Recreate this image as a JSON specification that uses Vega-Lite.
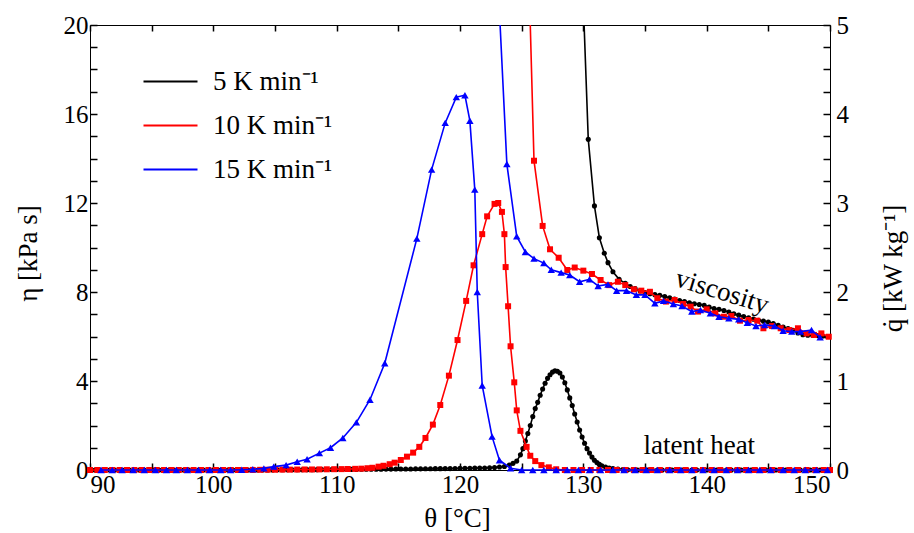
{
  "$schema": "https://vega.github.io/schema/vega-lite/v6.json",
  "width": 740,
  "height": 445,
  "autosize": {"type": "none"},
  "padding": {"left": 90, "top": 25, "right": 84, "bottom": 63},
  "background": "white",
  "config": {
    "view": {"stroke": null},
    "axis": {"labelFont": "Liberation Serif", "labelFontSize": 25, "labelColor": "black", "domainColor": "black", "grid": false},
    "legend": {
      "orient": "none", "legendX": 67, "legendY": 43, "padding": 0, "title": null,
      "symbolType": "M-3,0H3", "symbolSize": 324, "symbolStrokeWidth": 2,
      "labelFont": "Liberation Serif", "labelFontSize": 27, "labelColor": "black", "labelOffset": 29, "rowPadding": 16
    }
  },
  "datasets": {
    "visc": [
      {"s":"5","T":129.8,"v":24},{"s":"5","T":130.4,"v":14.86},{"s":"5","T":130.9,"v":11.87},{"s":"5","T":131.3,"v":10.44},{"s":"5","T":131.7,"v":9.74},{"s":"5","T":132.0,"v":9.32},{"s":"5","T":132.4,"v":8.91},{"s":"5","T":132.9,"v":8.57},{"s":"5","T":133.4,"v":8.39},{"s":"5","T":133.8,"v":8.25},{"s":"5","T":134.2,"v":8.15},{"s":"5","T":134.6,"v":8.05},{"s":"5","T":135.0,"v":7.98},{"s":"5","T":135.4,"v":7.92},{"s":"5","T":135.8,"v":7.88},{"s":"5","T":136.2,"v":7.85},{"s":"5","T":136.6,"v":7.8},{"s":"5","T":137.0,"v":7.74},{"s":"5","T":137.4,"v":7.68},{"s":"5","T":137.8,"v":7.62},{"s":"5","T":138.2,"v":7.57},{"s":"5","T":138.6,"v":7.52},{"s":"5","T":139.0,"v":7.47},{"s":"5","T":139.4,"v":7.44},{"s":"5","T":139.8,"v":7.4},{"s":"5","T":140.2,"v":7.32},{"s":"5","T":140.6,"v":7.26},{"s":"5","T":141.0,"v":7.22},{"s":"5","T":141.4,"v":7.17},{"s":"5","T":141.8,"v":7.1},{"s":"5","T":142.2,"v":7.02},{"s":"5","T":142.6,"v":6.96},{"s":"5","T":143.0,"v":6.9},{"s":"5","T":143.4,"v":6.84},{"s":"5","T":143.8,"v":6.78},{"s":"5","T":144.2,"v":6.73},{"s":"5","T":144.6,"v":6.69},{"s":"5","T":145.0,"v":6.65},{"s":"5","T":145.4,"v":6.58},{"s":"5","T":145.8,"v":6.5},{"s":"5","T":146.2,"v":6.43},{"s":"5","T":146.6,"v":6.36},{"s":"5","T":147.0,"v":6.28},{"s":"5","T":147.4,"v":6.16},{"s":"5","T":147.8,"v":6.08},{"s":"5","T":148.2,"v":6.06},{"s":"5","T":148.6,"v":6.05},{"s":"5","T":149.0,"v":6.04},{"s":"5","T":149.4,"v":6.02},{"s":"5","T":149.8,"v":6.0},
      {"s":"10","T":125.5,"v":24},{"s":"10","T":126.0,"v":13.9},{"s":"10","T":126.7,"v":10.97},{"s":"10","T":127.3,"v":9.92},{"s":"10","T":128.0,"v":9.54},{"s":"10","T":128.7,"v":8.99},{"s":"10","T":129.3,"v":9.1},{"s":"10","T":130.0,"v":8.96},{"s":"10","T":130.7,"v":8.81},{"s":"10","T":131.4,"v":8.54},{"s":"10","T":132.1,"v":8.31},{"s":"10","T":132.8,"v":8.46},{"s":"10","T":133.4,"v":8.31},{"s":"10","T":134.1,"v":8.12},{"s":"10","T":134.7,"v":8.06},{"s":"10","T":135.4,"v":8.01},{"s":"10","T":136.0,"v":7.72},{"s":"10","T":136.7,"v":7.57},{"s":"10","T":137.4,"v":7.64},{"s":"10","T":138.1,"v":7.46},{"s":"10","T":138.7,"v":7.34},{"s":"10","T":139.3,"v":7.12},{"s":"10","T":140.0,"v":7.22},{"s":"10","T":140.7,"v":7.04},{"s":"10","T":141.4,"v":6.89},{"s":"10","T":142.0,"v":6.92},{"s":"10","T":142.7,"v":6.71},{"s":"10","T":143.4,"v":6.74},{"s":"10","T":144.1,"v":6.71},{"s":"10","T":144.6,"v":6.37},{"s":"10","T":145.3,"v":6.47},{"s":"10","T":146.0,"v":6.37},{"s":"10","T":146.7,"v":6.29},{"s":"10","T":147.4,"v":6.37},{"s":"10","T":148.1,"v":6.14},{"s":"10","T":148.7,"v":6.07},{"s":"10","T":149.3,"v":6.14},{"s":"10","T":149.9,"v":5.99},
      {"s":"15","T":122.9,"v":24},{"s":"15","T":123.8,"v":13.75},{"s":"15","T":124.6,"v":10.5},{"s":"15","T":125.3,"v":9.8},{"s":"15","T":126.0,"v":9.5},{"s":"15","T":126.8,"v":9.3},{"s":"15","T":127.4,"v":9.0},{"s":"15","T":128.2,"v":8.87},{"s":"15","T":128.9,"v":8.76},{"s":"15","T":129.7,"v":8.46},{"s":"15","T":130.5,"v":8.57},{"s":"15","T":131.2,"v":8.27},{"s":"15","T":132.0,"v":8.34},{"s":"15","T":132.7,"v":8.06},{"s":"15","T":133.5,"v":8.06},{"s":"15","T":134.3,"v":7.87},{"s":"15","T":135.0,"v":7.87},{"s":"15","T":135.8,"v":7.49},{"s":"15","T":136.5,"v":7.6},{"s":"15","T":137.3,"v":7.46},{"s":"15","T":138.0,"v":7.37},{"s":"15","T":138.8,"v":7.12},{"s":"15","T":139.5,"v":7.19},{"s":"15","T":140.3,"v":7.04},{"s":"15","T":141.0,"v":6.89},{"s":"15","T":141.8,"v":6.82},{"s":"15","T":142.6,"v":6.77},{"s":"15","T":143.3,"v":6.62},{"s":"15","T":144.0,"v":6.47},{"s":"15","T":144.7,"v":6.52},{"s":"15","T":145.5,"v":6.47},{"s":"15","T":146.2,"v":6.26},{"s":"15","T":146.9,"v":6.22},{"s":"15","T":147.6,"v":6.22},{"s":"15","T":148.5,"v":6.29},{"s":"15","T":149.2,"v":5.96}
    ],
    "heat": [
      {"s":"5","T":90.0,"q":0},{"s":"5","T":90.4,"q":0},{"s":"5","T":90.8,"q":0},{"s":"5","T":91.2,"q":0},{"s":"5","T":91.6,"q":0},{"s":"5","T":92.0,"q":0},{"s":"5","T":92.4,"q":0},{"s":"5","T":92.8,"q":0},{"s":"5","T":93.2,"q":0},{"s":"5","T":93.6,"q":0},{"s":"5","T":94.0,"q":0},{"s":"5","T":94.4,"q":0},{"s":"5","T":94.8,"q":0},{"s":"5","T":95.2,"q":0},{"s":"5","T":95.6,"q":0},{"s":"5","T":96.0,"q":0},{"s":"5","T":96.4,"q":0},{"s":"5","T":96.8,"q":0},{"s":"5","T":97.2,"q":0},{"s":"5","T":97.6,"q":0},{"s":"5","T":98.0,"q":0},{"s":"5","T":98.4,"q":0},{"s":"5","T":98.8,"q":0},{"s":"5","T":99.2,"q":0},{"s":"5","T":99.6,"q":0},{"s":"5","T":100.0,"q":0},{"s":"5","T":100.4,"q":0},{"s":"5","T":100.8,"q":0},{"s":"5","T":101.2,"q":0},{"s":"5","T":101.6,"q":0},{"s":"5","T":102.0,"q":0},{"s":"5","T":102.4,"q":0},{"s":"5","T":102.8,"q":0},{"s":"5","T":103.2,"q":0},{"s":"5","T":103.6,"q":0},{"s":"5","T":104.0,"q":0},{"s":"5","T":104.4,"q":0},{"s":"5","T":104.8,"q":0},
      {"s":"5","T":105.2,"q":0.002},{"s":"5","T":105.6,"q":0.002},{"s":"5","T":106.0,"q":0.003},{"s":"5","T":106.4,"q":0.003},{"s":"5","T":106.8,"q":0.003},{"s":"5","T":107.2,"q":0.003},{"s":"5","T":107.6,"q":0.004},{"s":"5","T":108.0,"q":0.004},{"s":"5","T":108.4,"q":0.004},{"s":"5","T":108.8,"q":0.005},{"s":"5","T":109.2,"q":0.005},{"s":"5","T":109.6,"q":0.005},{"s":"5","T":110.0,"q":0.006},{"s":"5","T":110.4,"q":0.006},{"s":"5","T":110.8,"q":0.006},{"s":"5","T":111.2,"q":0.007},{"s":"5","T":111.6,"q":0.007},{"s":"5","T":112.0,"q":0.008},{"s":"5","T":112.4,"q":0.008},{"s":"5","T":112.8,"q":0.008},{"s":"5","T":113.2,"q":0.009},{"s":"5","T":113.6,"q":0.009},{"s":"5","T":114.0,"q":0.01},{"s":"5","T":114.4,"q":0.01},{"s":"5","T":114.8,"q":0.011},{"s":"5","T":115.2,"q":0.011},{"s":"5","T":115.6,"q":0.012},{"s":"5","T":116.0,"q":0.012},{"s":"5","T":116.4,"q":0.013},{"s":"5","T":116.8,"q":0.013},{"s":"5","T":117.2,"q":0.014},{"s":"5","T":117.6,"q":0.014},{"s":"5","T":118.0,"q":0.015},{"s":"5","T":118.4,"q":0.015},{"s":"5","T":118.8,"q":0.016},{"s":"5","T":119.2,"q":0.016},{"s":"5","T":119.6,"q":0.017},{"s":"5","T":120.0,"q":0.018},{"s":"5","T":120.4,"q":0.019},{"s":"5","T":120.8,"q":0.02},{"s":"5","T":121.2,"q":0.021},{"s":"5","T":121.6,"q":0.022},{"s":"5","T":122.0,"q":0.023},{"s":"5","T":122.4,"q":0.025},{"s":"5","T":122.8,"q":0.028},{"s":"5","T":123.2,"q":0.033},{"s":"5","T":123.6,"q":0.04},
      {"s":"5","T":124.0,"q":0.055},{"s":"5","T":124.3,"q":0.075},{"s":"5","T":124.6,"q":0.1},{"s":"5","T":124.9,"q":0.17},{"s":"5","T":125.1,"q":0.24},{"s":"5","T":125.3,"q":0.325},{"s":"5","T":125.5,"q":0.41},{"s":"5","T":125.7,"q":0.5},{"s":"5","T":125.9,"q":0.6},{"s":"5","T":126.1,"q":0.69},{"s":"5","T":126.3,"q":0.76},{"s":"5","T":126.5,"q":0.84},{"s":"5","T":126.7,"q":0.91},{"s":"5","T":126.9,"q":0.975},{"s":"5","T":127.1,"q":1.03},{"s":"5","T":127.3,"q":1.07},{"s":"5","T":127.5,"q":1.1},{"s":"5","T":127.7,"q":1.115},{"s":"5","T":127.9,"q":1.11},{"s":"5","T":128.1,"q":1.09},{"s":"5","T":128.3,"q":1.045},{"s":"5","T":128.5,"q":0.98},{"s":"5","T":128.7,"q":0.9},{"s":"5","T":128.9,"q":0.81},{"s":"5","T":129.1,"q":0.725},{"s":"5","T":129.3,"q":0.63},{"s":"5","T":129.5,"q":0.54},{"s":"5","T":129.7,"q":0.45},{"s":"5","T":129.9,"q":0.37},{"s":"5","T":130.1,"q":0.3},{"s":"5","T":130.3,"q":0.24},{"s":"5","T":130.5,"q":0.19},{"s":"5","T":130.7,"q":0.145},{"s":"5","T":130.9,"q":0.11},{"s":"5","T":131.1,"q":0.083},{"s":"5","T":131.3,"q":0.063},{"s":"5","T":131.5,"q":0.048},{"s":"5","T":131.8,"q":0.033},{"s":"5","T":132.1,"q":0.023},{"s":"5","T":132.4,"q":0.015},{"s":"5","T":132.8,"q":0.01},{"s":"5","T":133.2,"q":0.005},{"s":"5","T":133.6,"q":0.002},
      {"s":"5","T":134.0,"q":0},{"s":"5","T":134.4,"q":0},{"s":"5","T":134.8,"q":0},{"s":"5","T":135.2,"q":0},{"s":"5","T":135.6,"q":0},{"s":"5","T":136.0,"q":0},{"s":"5","T":136.4,"q":0},{"s":"5","T":136.8,"q":0},{"s":"5","T":137.2,"q":0},{"s":"5","T":137.6,"q":0},{"s":"5","T":138.0,"q":0},{"s":"5","T":138.4,"q":0},{"s":"5","T":138.8,"q":0},{"s":"5","T":139.2,"q":0},{"s":"5","T":139.6,"q":0},{"s":"5","T":140.0,"q":0},{"s":"5","T":140.4,"q":0},{"s":"5","T":140.8,"q":0},{"s":"5","T":141.2,"q":0},{"s":"5","T":141.6,"q":0},{"s":"5","T":142.0,"q":0},{"s":"5","T":142.4,"q":0},{"s":"5","T":142.8,"q":0},{"s":"5","T":143.2,"q":0},{"s":"5","T":143.6,"q":0},{"s":"5","T":144.0,"q":0},{"s":"5","T":144.4,"q":0},{"s":"5","T":144.8,"q":0},{"s":"5","T":145.2,"q":0},{"s":"5","T":145.6,"q":0},{"s":"5","T":146.0,"q":0},{"s":"5","T":146.4,"q":0},{"s":"5","T":146.8,"q":0},{"s":"5","T":147.2,"q":0},{"s":"5","T":147.6,"q":0},{"s":"5","T":148.0,"q":0},{"s":"5","T":148.4,"q":0},{"s":"5","T":148.8,"q":0},{"s":"5","T":149.2,"q":0},{"s":"5","T":149.6,"q":0},{"s":"5","T":150.0,"q":0},
      {"s":"10","T":90.0,"q":0},{"s":"10","T":90.6,"q":0},{"s":"10","T":91.2,"q":0},{"s":"10","T":91.8,"q":0},{"s":"10","T":92.4,"q":0},{"s":"10","T":93.0,"q":0},{"s":"10","T":93.6,"q":0},{"s":"10","T":94.2,"q":0},{"s":"10","T":94.8,"q":0},{"s":"10","T":95.4,"q":0},{"s":"10","T":96.0,"q":0},{"s":"10","T":96.6,"q":0},{"s":"10","T":97.2,"q":0},{"s":"10","T":97.8,"q":0},{"s":"10","T":98.4,"q":0},{"s":"10","T":99.0,"q":0},{"s":"10","T":99.6,"q":0},{"s":"10","T":100.2,"q":0},{"s":"10","T":100.8,"q":0},{"s":"10","T":101.4,"q":0},{"s":"10","T":102.0,"q":0},{"s":"10","T":102.6,"q":0},{"s":"10","T":103.2,"q":0.001},
      {"s":"10","T":103.8,"q":0.002},{"s":"10","T":104.4,"q":0.003},{"s":"10","T":105.0,"q":0.003},{"s":"10","T":105.6,"q":0.004},{"s":"10","T":106.2,"q":0.004},{"s":"10","T":106.8,"q":0.005},{"s":"10","T":107.4,"q":0.006},{"s":"10","T":108.0,"q":0.006},{"s":"10","T":108.6,"q":0.007},{"s":"10","T":109.2,"q":0.008},{"s":"10","T":109.8,"q":0.009},{"s":"10","T":110.4,"q":0.01},{"s":"10","T":110.9,"q":0.011},{"s":"10","T":111.5,"q":0.013},{"s":"10","T":112.0,"q":0.015},{"s":"10","T":112.5,"q":0.02},{"s":"10","T":112.9,"q":0.025},{"s":"10","T":113.4,"q":0.0375},{"s":"10","T":113.8,"q":0.0475},{"s":"10","T":114.3,"q":0.065},{"s":"10","T":114.7,"q":0.0825},{"s":"10","T":115.2,"q":0.1125},{"s":"10","T":115.7,"q":0.15},{"s":"10","T":116.2,"q":0.195},{"s":"10","T":116.7,"q":0.26},{"s":"10","T":117.2,"q":0.36},{"s":"10","T":117.8,"q":0.51},{"s":"10","T":118.4,"q":0.73},{"s":"10","T":119.1,"q":1.06},{"s":"10","T":119.8,"q":1.46},{"s":"10","T":120.5,"q":1.9},{"s":"10","T":121.1,"q":2.3},{"s":"10","T":121.8,"q":2.65},{"s":"10","T":122.2,"q":2.85},{"s":"10","T":122.8,"q":2.99},{"s":"10","T":123.1,"q":3.0},{"s":"10","T":123.4,"q":2.9},{"s":"10","T":123.6,"q":2.65},{"s":"10","T":123.7,"q":2.28},{"s":"10","T":123.9,"q":1.84},{"s":"10","T":124.1,"q":1.39},{"s":"10","T":124.4,"q":0.985},{"s":"10","T":124.6,"q":0.67},{"s":"10","T":124.9,"q":0.44},{"s":"10","T":125.4,"q":0.26},{"s":"10","T":125.7,"q":0.16},{"s":"10","T":126.1,"q":0.1},{"s":"10","T":126.6,"q":0.055},{"s":"10","T":127.2,"q":0.03},{"s":"10","T":127.8,"q":0.008},
      {"s":"10","T":128.5,"q":0},{"s":"10","T":129.2,"q":0},{"s":"10","T":129.9,"q":0},{"s":"10","T":130.6,"q":0},{"s":"10","T":131.3,"q":0},{"s":"10","T":132.0,"q":0},{"s":"10","T":132.7,"q":0},{"s":"10","T":133.4,"q":0},{"s":"10","T":134.1,"q":0},{"s":"10","T":134.8,"q":0},{"s":"10","T":135.5,"q":0},{"s":"10","T":136.2,"q":0},{"s":"10","T":136.9,"q":0},{"s":"10","T":137.6,"q":0},{"s":"10","T":138.3,"q":0},{"s":"10","T":139.0,"q":0},{"s":"10","T":139.7,"q":0},{"s":"10","T":140.4,"q":0},{"s":"10","T":141.1,"q":0},{"s":"10","T":141.8,"q":0},{"s":"10","T":142.5,"q":0},{"s":"10","T":143.2,"q":0},{"s":"10","T":143.9,"q":0},{"s":"10","T":144.6,"q":0},{"s":"10","T":145.3,"q":0},{"s":"10","T":146.0,"q":0},{"s":"10","T":146.7,"q":0},{"s":"10","T":147.4,"q":0},{"s":"10","T":148.1,"q":0},{"s":"10","T":148.8,"q":0},{"s":"10","T":149.5,"q":0},{"s":"10","T":150.0,"q":0},
      {"s":"15","T":90.9,"q":0},{"s":"15","T":91.8,"q":0},{"s":"15","T":92.6,"q":0},{"s":"15","T":93.5,"q":0},{"s":"15","T":94.4,"q":0},{"s":"15","T":95.3,"q":0},{"s":"15","T":96.2,"q":0},{"s":"15","T":97.0,"q":0},{"s":"15","T":97.9,"q":0},{"s":"15","T":98.8,"q":0},{"s":"15","T":99.7,"q":0},{"s":"15","T":100.6,"q":0},{"s":"15","T":101.4,"q":0},{"s":"15","T":102.3,"q":0.003},{"s":"15","T":103.2,"q":0.008},{"s":"15","T":104.1,"q":0.018},{"s":"15","T":104.9,"q":0.038},{"s":"15","T":105.9,"q":0.055},{"s":"15","T":106.8,"q":0.092},{"s":"15","T":107.6,"q":0.12},{"s":"15","T":108.6,"q":0.19},{"s":"15","T":109.5,"q":0.25},{"s":"15","T":110.5,"q":0.36},{"s":"15","T":111.6,"q":0.535},{"s":"15","T":112.7,"q":0.79},{"s":"15","T":113.9,"q":1.2},{"s":"15","T":116.5,"q":2.6},{"s":"15","T":117.7,"q":3.375},{"s":"15","T":118.8,"q":3.9},{"s":"15","T":119.7,"q":4.19},{"s":"15","T":120.4,"q":4.21},{"s":"15","T":120.8,"q":3.925},{"s":"15","T":121.2,"q":3.15},{"s":"15","T":121.4,"q":2.0},{"s":"15","T":121.8,"q":0.95},{"s":"15","T":122.6,"q":0.375},{"s":"15","T":123.2,"q":0.11},{"s":"15","T":124.1,"q":0.02},
      {"s":"15","T":125.0,"q":0},{"s":"15","T":125.9,"q":0},{"s":"15","T":126.8,"q":0},{"s":"15","T":127.8,"q":0},{"s":"15","T":128.7,"q":0},{"s":"15","T":129.6,"q":0},{"s":"15","T":130.5,"q":0},{"s":"15","T":131.4,"q":0},{"s":"15","T":132.4,"q":0},{"s":"15","T":133.3,"q":0},{"s":"15","T":134.2,"q":0},{"s":"15","T":135.1,"q":0},{"s":"15","T":136.0,"q":0},{"s":"15","T":137.0,"q":0},{"s":"15","T":137.9,"q":0},{"s":"15","T":138.8,"q":0},{"s":"15","T":139.7,"q":0},{"s":"15","T":140.6,"q":0},{"s":"15","T":141.6,"q":0},{"s":"15","T":142.5,"q":0},{"s":"15","T":143.4,"q":0},{"s":"15","T":144.3,"q":0},{"s":"15","T":145.2,"q":0},{"s":"15","T":146.2,"q":0},{"s":"15","T":147.1,"q":0},{"s":"15","T":148.0,"q":0},{"s":"15","T":148.9,"q":0},{"s":"15","T":149.8,"q":0}
    ]
  },
  "layer": [
    {"data": {"name": "visc"}, "transform": [{"filter": "datum.s === '5'"}], "mark": {"type": "line", "clip": true, "strokeWidth": 1.6},
      "encoding": {
        "x": {"field": "T", "type": "quantitative", "scale": {"domain": [90, 150], "nice": false, "zero": false},
          "axis": {"orient": "bottom", "values": [90,95,100,105,110,115,120,125,130,135,140,145,150],
            "ticks": true, "tickSize": -7, "tickColor": "#000000", "tickWidth": 1.5,
            "labelExpr": "datum.value % 10 === 0 ? datum.label : ''", "labelPadding": 9,
            "title": "θ [°C]", "titleFont": "Liberation Serif", "titleFontSize": 27, "titleFontWeight": "normal", "titleColor": "black",
            "titleX": 367, "titleY": 48, "titleAlign": "center", "titleBaseline": "middle", "titleAngle": 0}},
        "y": {"field": "v", "type": "quantitative", "scale": {"domain": [0, 20], "nice": false},
          "axis": {"orient": "left", "values": [0,1,2,3,4,5,6,7,8,9,10,11,12,13,14,15,16,17,18,19,20],
            "ticks": true, "tickSize": -7, "tickColor": "#000000", "tickWidth": 1.5,
            "labelExpr": "datum.value % 4 === 0 ? datum.label : ''", "labelPadding": 9,
            "title": "η [kPa s]", "titleFont": "Liberation Serif", "titleFontSize": 27, "titleFontWeight": "normal", "titleColor": "black",
            "titleX": -62, "titleY": 228, "titleAlign": "center", "titleBaseline": "middle", "titleAngle": 270}},
        "color": {"field": "s", "type": "nominal", "scale": {"domain": ["5","10","15"], "range": ["#000000","#ff0000","#0000ff"]},
          "legend": {"labelExpr": "(datum.label == '5' ? '\u2007' : '') + datum.label + ' K min\u207b\u00b9'"}}
      }},
    {"data": {"name": "visc"}, "transform": [{"filter": "datum.s === '5'"}], "mark": {"type": "point", "shape": "circle", "filled": true, "opacity": 1, "strokeWidth": 0, "size": 26, "color": "#000000"},
      "encoding": {"x": {"field": "T", "type": "quantitative", "scale": {"domain": [90, 150]}, "axis": null}, "y": {"field": "v", "type": "quantitative", "scale": {"domain": [0, 20]}, "axis": null}}},
    {"data": {"name": "visc"}, "transform": [{"filter": "datum.s === '10'"}], "mark": {"type": "line", "clip": true, "strokeWidth": 1.6},
      "encoding": {"x": {"field": "T", "type": "quantitative", "scale": {"domain": [90, 150]}, "axis": null}, "y": {"field": "v", "type": "quantitative", "scale": {"domain": [0, 20]}, "axis": null},
        "color": {"field": "s", "type": "nominal", "scale": {"domain": ["5","10","15"], "range": ["#000000","#ff0000","#0000ff"]}}}},
    {"data": {"name": "visc"}, "transform": [{"filter": "datum.s === '10'"}], "mark": {"type": "point", "shape": "square", "filled": true, "opacity": 1, "strokeWidth": 0, "size": 36, "color": "#ff0000"},
      "encoding": {"x": {"field": "T", "type": "quantitative", "scale": {"domain": [90, 150]}, "axis": null}, "y": {"field": "v", "type": "quantitative", "scale": {"domain": [0, 20]}, "axis": null}}},
    {"data": {"name": "visc"}, "transform": [{"filter": "datum.s === '15'"}], "mark": {"type": "line", "clip": true, "strokeWidth": 1.6},
      "encoding": {"x": {"field": "T", "type": "quantitative", "scale": {"domain": [90, 150]}, "axis": null}, "y": {"field": "v", "type": "quantitative", "scale": {"domain": [0, 20]}, "axis": null},
        "color": {"field": "s", "type": "nominal", "scale": {"domain": ["5","10","15"], "range": ["#000000","#ff0000","#0000ff"]}}}},
    {"data": {"name": "visc"}, "transform": [{"filter": "datum.s === '15'"}], "mark": {"type": "point", "shape": "triangle-up", "filled": true, "opacity": 1, "strokeWidth": 0, "size": 55, "color": "#0000ff"},
      "encoding": {"x": {"field": "T", "type": "quantitative", "scale": {"domain": [90, 150]}, "axis": null}, "y": {"field": "v", "type": "quantitative", "scale": {"domain": [0, 20]}, "axis": null}}},
    {"data": {"name": "heat"}, "transform": [{"filter": "datum.s === '5'"}], "mark": {"type": "line", "strokeWidth": 1.6},
      "encoding": {
        "x": {"field": "T", "type": "quantitative", "scale": {"domain": [90, 150], "nice": false, "zero": false},
          "axis": {"orient": "top", "values": [90,95,100,105,110,115,120,125,130,135,140,145,150], "labels": false, "title": null,
            "ticks": true, "tickSize": -6, "tickColor": "#000000", "tickWidth": 1.5}},
        "y": {"field": "q", "type": "quantitative", "scale": {"domain": [0, 5], "nice": false},
          "axis": {"orient": "right", "values": [0,0.25,0.5,0.75,1,1.25,1.5,1.75,2,2.25,2.5,2.75,3,3.25,3.5,3.75,4,4.25,4.5,4.75,5],
            "ticks": true, "tickSize": -7, "tickColor": "#000000", "tickWidth": 1.5,
            "labelExpr": "datum.value % 1 === 0 ? format(datum.value, 'd') : ''", "labelPadding": 13,
            "title": "q\u0307 [kW kg\u207b\u00b9]", "titleFont": "Liberation Serif", "titleFontSize": 27, "titleFontWeight": "normal", "titleColor": "black",
            "titleX": 63, "titleY": 243, "titleAlign": "center", "titleBaseline": "middle", "titleAngle": 270}},
        "color": {"field": "s", "type": "nominal", "scale": {"domain": ["5","10","15"], "range": ["#000000","#ff0000","#0000ff"]}}
      }},
    {"data": {"name": "heat"}, "transform": [{"filter": "datum.s === '5'"}], "mark": {"type": "point", "shape": "circle", "filled": true, "opacity": 1, "strokeWidth": 0, "size": 26, "color": "#000000"},
      "encoding": {"x": {"field": "T", "type": "quantitative", "scale": {"domain": [90, 150]}, "axis": null}, "y": {"field": "q", "type": "quantitative", "scale": {"domain": [0, 5]}, "axis": null}}},
    {"data": {"name": "heat"}, "transform": [{"filter": "datum.s === '10'"}], "mark": {"type": "line", "strokeWidth": 1.6},
      "encoding": {"x": {"field": "T", "type": "quantitative", "scale": {"domain": [90, 150]}, "axis": null}, "y": {"field": "q", "type": "quantitative", "scale": {"domain": [0, 5]}, "axis": null},
        "color": {"field": "s", "type": "nominal", "scale": {"domain": ["5","10","15"], "range": ["#000000","#ff0000","#0000ff"]}}}},
    {"data": {"name": "heat"}, "transform": [{"filter": "datum.s === '10'"}], "mark": {"type": "point", "shape": "square", "filled": true, "opacity": 1, "strokeWidth": 0, "size": 36, "color": "#ff0000"},
      "encoding": {"x": {"field": "T", "type": "quantitative", "scale": {"domain": [90, 150]}, "axis": null}, "y": {"field": "q", "type": "quantitative", "scale": {"domain": [0, 5]}, "axis": null}}},
    {"data": {"name": "heat"}, "transform": [{"filter": "datum.s === '15'"}], "mark": {"type": "line", "strokeWidth": 1.6},
      "encoding": {"x": {"field": "T", "type": "quantitative", "scale": {"domain": [90, 150]}, "axis": null}, "y": {"field": "q", "type": "quantitative", "scale": {"domain": [0, 5]}, "axis": null},
        "color": {"field": "s", "type": "nominal", "scale": {"domain": ["5","10","15"], "range": ["#000000","#ff0000","#0000ff"]}}}},
    {"data": {"name": "heat"}, "transform": [{"filter": "datum.s === '15'"}], "mark": {"type": "point", "shape": "triangle-up", "filled": true, "opacity": 1, "strokeWidth": 0, "size": 55, "color": "#0000ff"},
      "encoding": {"x": {"field": "T", "type": "quantitative", "scale": {"domain": [90, 150]}, "axis": null}, "y": {"field": "q", "type": "quantitative", "scale": {"domain": [0, 5]}, "axis": null}}},
    {
      "data": {"values": [{"T": 141.25, "v": 8.0, "txt": "viscosity"}]},
      "mark": {"type": "text", "angle": 17, "font": "Liberation Serif", "fontSize": 27, "color": "black", "align": "center", "baseline": "middle"},
      "encoding": {
        "x": {"field": "T", "type": "quantitative", "scale": {"domain": [90, 150]}, "axis": null},
        "y": {"field": "v", "type": "quantitative", "scale": {"domain": [0, 20]}, "axis": null},
        "text": {"field": "txt"}
      }
    },
    {
      "data": {"values": [{"T": 139.4, "v": 1.08, "txt": "latent heat"}]},
      "mark": {"type": "text", "font": "Liberation Serif", "fontSize": 27, "color": "black", "align": "center", "baseline": "middle"},
      "encoding": {
        "x": {"field": "T", "type": "quantitative", "scale": {"domain": [90, 150]}, "axis": null},
        "y": {"field": "v", "type": "quantitative", "scale": {"domain": [0, 20]}, "axis": null},
        "text": {"field": "txt"}
      }
    }
  ],
  "resolve": {"scale": {"y": "independent"}, "axis": {"x": "independent", "y": "independent"}}
}
